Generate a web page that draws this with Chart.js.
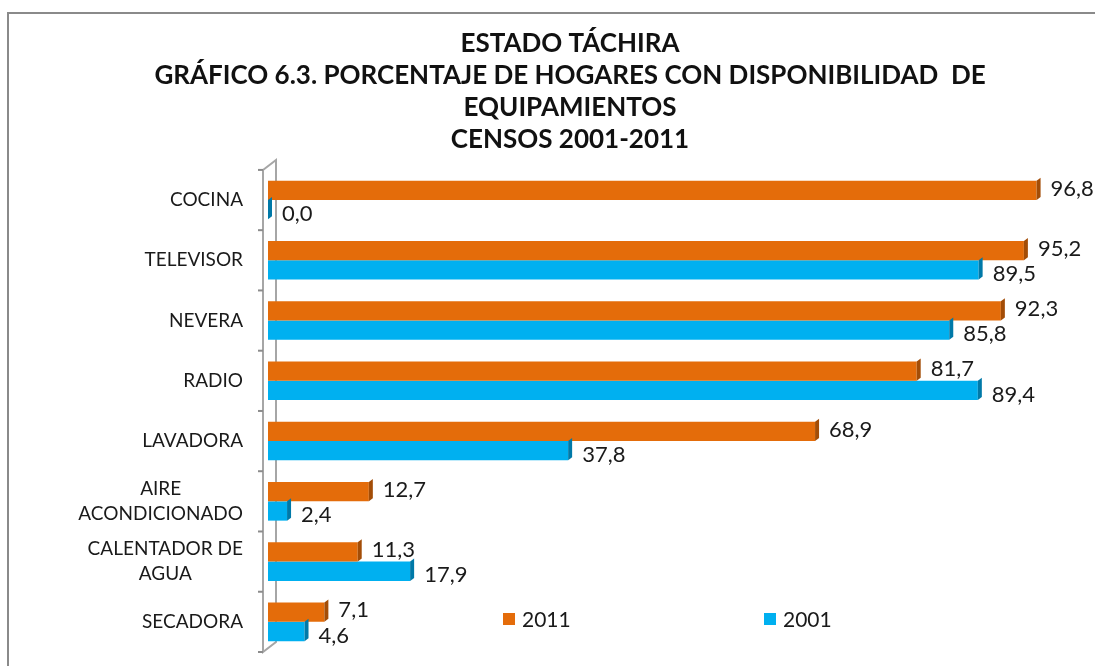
<!DOCTYPE html>
<html>
<head>
<meta charset="utf-8">
<script src="https://cdn.jsdelivr.net/npm/chart.js@4.4.2/dist/chart.umd.min.js"></script>
<style>
  html, body { margin: 0; padding: 0; background: #fff; }
  #wrap { width: 1095px; height: 666px; position: relative; }
</style>
</head>
<body>
<div id="wrap"><canvas id="chart" width="1095" height="666"></canvas></div>
<script>
const categories = ['COCINA', 'TELEVISOR', 'NEVERA', 'RADIO', 'LAVADORA',
  ['AIRE', 'ACONDICIONADO'], ['CALENTADOR DE', 'AGUA'], 'SECADORA'];
const values2011 = [96.8, 95.2, 92.3, 81.7, 68.9, 12.7, 11.3, 7.1];
const values2001 = [0.0, 89.5, 85.8, 89.4, 37.8, 2.4, 17.9, 4.6];
const seriesNames = ['2011', '2001'];
const titleLines = ['ESTADO TÁCHIRA',
  'GRÁFICO 6.3. PORCENTAJE DE HOGARES CON DISPONIBILIDAD  DE',
  'EQUIPAMIENTOS',
  'CENSOS 2001-2011'];

const ORANGE = '#E46C0A';
const ORANGE_SIDE = '#A34D07';
const BLUE = '#00B0F0';
const BLUE_SIDE = '#0079A8';
const FONT = 'Lato, "Open Sans", sans-serif';

// frame around the chart
const framePlugin = {
  id: 'frame',
  beforeDraw(chart) {
    const ctx = chart.ctx;
    ctx.save();
    ctx.fillStyle = '#fff';
    ctx.fillRect(0, 0, chart.width, chart.height);
    ctx.strokeStyle = '#8a8a8a';
    ctx.lineWidth = 2;
    ctx.beginPath();
    ctx.moveTo(8, chart.height);
    ctx.lineTo(8, 13);
    ctx.lineTo(chart.width, 13);
    ctx.stroke();
    ctx.restore();
  }
};

// thin 3D-looking wall on the category axis + category labels
// (block right-aligned, lines centred inside the block, as in Excel)
const wallPlugin = {
  id: 'wall',
  beforeDatasetsDraw(chart) {
    const { ctx, chartArea } = chart;
    const y = chart.scales.y;
    const x0 = chartArea.left;
    ctx.save();
    ctx.strokeStyle = '#a6a6a6';
    ctx.lineWidth = 2;
    ctx.beginPath();
    ctx.moveTo(x0 - 5, chartArea.top);
    ctx.lineTo(x0 - 5, chartArea.bottom);
    ctx.lineTo(x0 + 8, chartArea.bottom - 10);
    ctx.lineTo(x0 + 8, chartArea.top - 10);
    ctx.lineTo(x0 - 5, chartArea.top);
    ctx.stroke();
    ctx.strokeStyle = '#8c8c8c';
    for (let i = 0; i <= categories.length; i++) {
      const yy = y.top + (y.bottom - y.top) * i / categories.length;
      ctx.beginPath();
      ctx.moveTo(x0 - 10, yy);
      ctx.lineTo(x0 - 5, yy);
      ctx.stroke();
    }

    ctx.font = '19px ' + FONT;
    ctx.fillStyle = '#1a1a1a';
    ctx.textAlign = 'center';
    ctx.textBaseline = 'middle';
    const right = x0 - 25;
    const lineH = 25;
    categories.forEach((c, i) => {
      const lines = Array.isArray(c) ? c : [c];
      const w = Math.max(...lines.map(l => ctx.measureText(l).width));
      const cy = y.getPixelForTick(i);
      lines.forEach((l, k) => {
        ctx.fillText(l, right - w / 2, cy + (k - (lines.length - 1) / 2) * lineH);
      });
    });
    ctx.restore();
  }
};

// darker right face on each bar + value labels + legend
const barExtrasPlugin = {
  id: 'barExtras',
  afterDatasetsDraw(chart) {
    const ctx = chart.ctx;
    ctx.save();
    chart.data.datasets.forEach((ds, di) => {
      const meta = chart.getDatasetMeta(di);
      meta.data.forEach((bar, i) => {
        const h = bar.height;
        const top = bar.y - h / 2;
        ctx.fillStyle = di === 0 ? ORANGE_SIDE : BLUE_SIDE;
        ctx.beginPath();
        ctx.moveTo(bar.x, top);
        ctx.lineTo(bar.x + 4, top - 3);
        ctx.lineTo(bar.x + 4, top + h - 3);
        ctx.lineTo(bar.x, top + h);
        ctx.closePath();
        ctx.fill();
        const v = ds.data[i];
        ctx.fillStyle = '#1a1a1a';
        ctx.font = '22px ' + FONT;
        ctx.textAlign = 'left';
        ctx.textBaseline = 'middle';
        ctx.fillText(v.toFixed(1).replace('.', ','), bar.x + 14, bar.y + (di === 0 ? -2 : 4));
      });
    });
    // legend inside the plot
    const legendY = chart.chartArea.bottom - 33;
    const items = [[ORANGE, seriesNames[0], 503], [BLUE, seriesNames[1], 764]];
    ctx.font = '21px ' + FONT;
    items.forEach(([c, t, lx]) => {
      ctx.fillStyle = c;
      ctx.fillRect(lx, legendY - 6, 12, 12);
      ctx.fillStyle = '#1a1a1a';
      ctx.fillText(t, lx + 19, legendY + 1);
    });
    ctx.restore();
  }
};

new Chart(document.getElementById('chart'), {
  type: 'bar',
  data: {
    labels: categories,
    datasets: [{
      label: seriesNames[0],
      data: values2011,
      backgroundColor: ORANGE
    }, {
      label: seriesNames[1],
      data: values2001,
      backgroundColor: BLUE
    }]
  },
  options: {
    indexAxis: 'y',
    responsive: false,
    animation: false,
    categoryPercentage: 0.64,
    barPercentage: 1.0,
    layout: {
      padding: { top: 28, left: 78, right: 33, bottom: 14 }
    },
    plugins: {
      legend: { display: false },
      tooltip: { enabled: false },
      title: {
        display: true,
        text: titleLines,
        color: '#111',
        font: { family: FONT, size: 26, weight: 'bold', lineHeight: 1.23 },
        padding: { top: 0, bottom: 14 }
      }
    },
    scales: {
      x: {
        display: false,
        min: 0,
        max: 100
      },
      y: {
        afterFit: scale => { scale.width = 190; },
        grid: { display: false },
        border: { display: false },
        ticks: {
          display: false,
          padding: 0
        }
      }
    }
  },
  plugins: [framePlugin, wallPlugin, barExtrasPlugin]
});
</script>
</body>
</html>
